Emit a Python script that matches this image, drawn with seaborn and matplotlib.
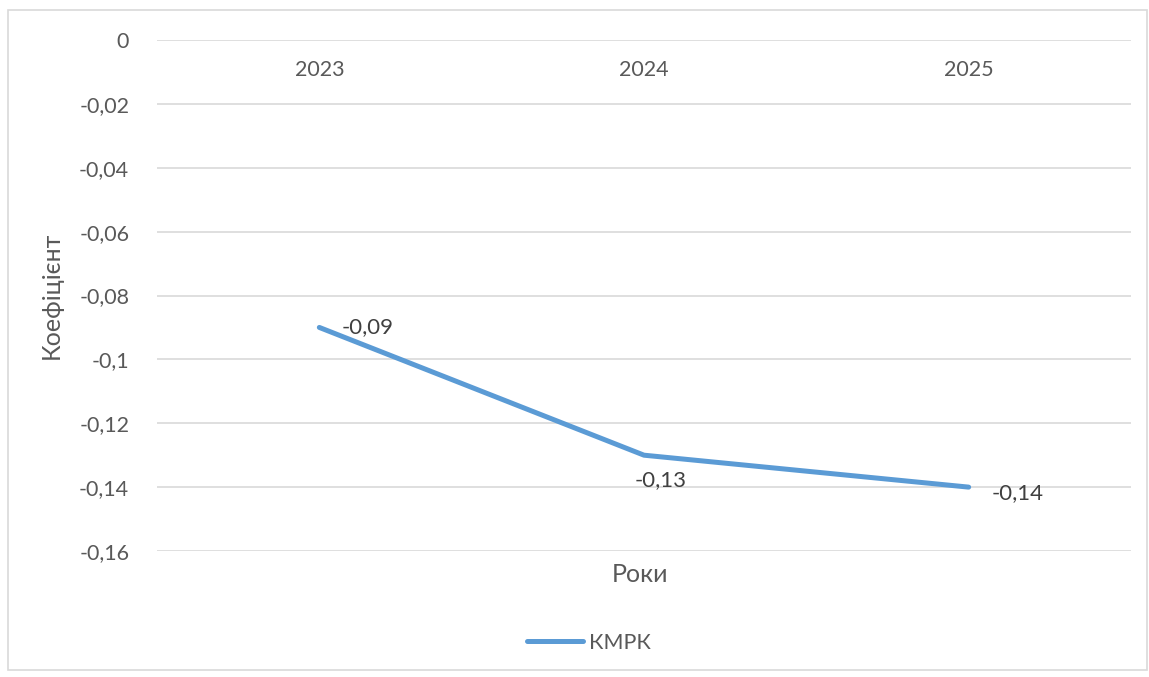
import matplotlib
matplotlib.use("Agg")
import matplotlib.pyplot as plt
import matplotlib.ticker as mticker
from matplotlib.patches import Rectangle
from matplotlib.lines import Line2D
import seaborn as sns
import pandas as pd

years = ["2023", "2024", "2025"]
kmrk = [-0.09, -0.13, -0.14]
series_name = "КМРК"
y_ticks = [0, -0.02, -0.04, -0.06, -0.08, -0.1, -0.12, -0.14, -0.16]

sns.set_theme(style="white")
plt.rcParams['font.family'] = ['Lato', 'DejaVu Sans']

TXT = "#595959"
GRID = "#d9d9d9"
LINE = "#5b9bd5"

df = pd.DataFrame({"year": years, "value": kmrk, "series": series_name})
df["x"] = range(len(years))

fig = plt.figure(figsize=(11.49, 6.77), dpi=100)
ax = fig.add_axes([157/1149, 1-551/677, (1131-157)/1149, (551-40)/677])

sns.lineplot(data=df, x="x", y="value", hue="series", palette=[LINE],
             linewidth=3.6, ax=ax, legend=False, solid_capstyle="round")

ax.set_xlim(-0.5, len(years) - 0.5)
ax.set_ylim(-0.16, 0)
ax.set_yticks(y_ticks)
ax.yaxis.set_major_formatter(mticker.FuncFormatter(lambda v, p: f"{v:g}".replace(".", ",")))
ax.grid(axis="y", color=GRID, linewidth=1.2)
ax.set_axisbelow(True)
for s in ax.spines.values():
    s.set_visible(False)

ax.xaxis.set_ticks_position("top")
ax.set_xticks(range(len(years)))
ax.set_xticklabels(years)
ax.tick_params(axis="x", length=0, pad=-29, labelsize=15.5, labelcolor=TXT)
ax.tick_params(axis="y", length=0, pad=20, labelsize=15.5, labelcolor=TXT)

ax.set_xlabel("")
ax.set_ylabel("Коефіцієнт", fontsize=18, color=TXT, labelpad=12)
fig.text(640/1149, 1-575/677, "Роки", ha="center", va="center", fontsize=18, color=TXT)

# data labels
offsets = [(22, 0), (-9, -25), (23, -6)]
for i, (v, (dx, dy)) in enumerate(zip(kmrk, offsets)):
    ax.annotate(f"{v:g}".replace(".", ","), (i, v), xytext=(dx*0.72, dy*0.72),
                textcoords="offset points", ha="left", va="center", fontsize=16, color="#404040")

h = [Line2D([0], [0], color=LINE, linewidth=3.6, solid_capstyle="round")]
fig.legend(h, [series_name], loc="center", bbox_to_anchor=(589/1149, 1-643/677),
           frameon=False, fontsize=15.5, labelcolor=TXT, handlelength=2.6, handletextpad=0.3)

fig.patches.append(Rectangle((8/1149, 1-670/677), 1139/1149, 660/677, transform=fig.transFigure,
                             fill=False, edgecolor=GRID, linewidth=1.2))

fig.savefig("out.png", dpi=100)
